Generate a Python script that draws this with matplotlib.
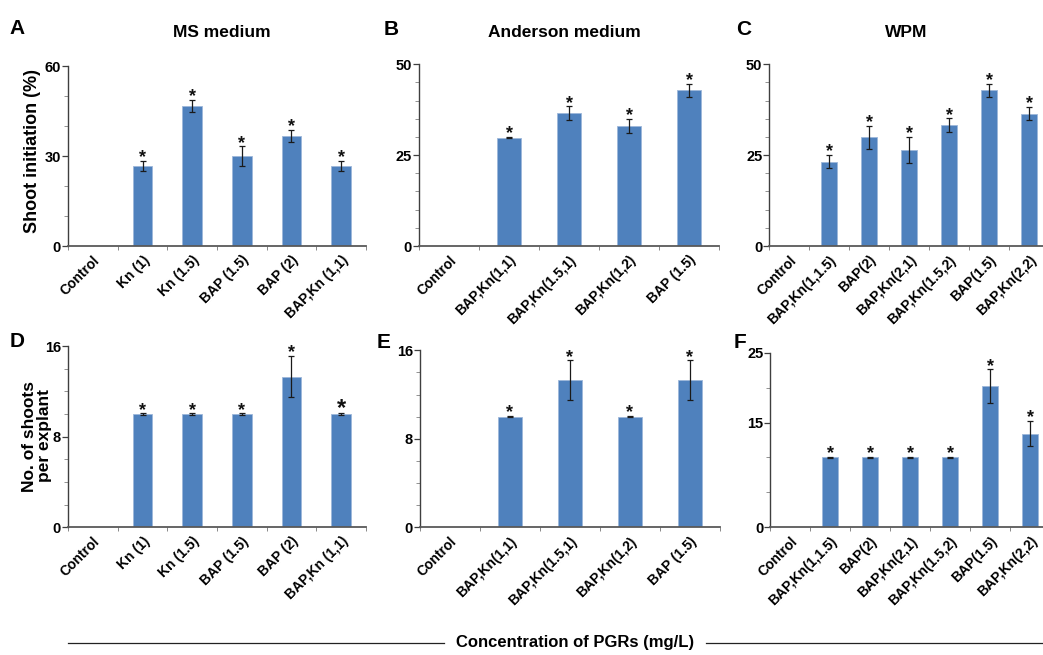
import matplotlib
matplotlib.use("Agg")
import matplotlib.pyplot as plt
from matplotlib.ticker import MultipleLocator, FixedLocator
import numpy as np

plt.rcParams['font.family'] = ['Liberation Sans', 'DejaVu Sans']
plt.rcParams['font.weight'] = 'bold'

# ---------------- data ----------------
ms_labels = ["Control", "Kn (1)", "Kn (1.5)", "BAP (1.5)", "BAP (2)", "BAP,Kn (1,1)"]
and_labels = ["Control", "BAP,Kn(1,1)", "BAP,Kn(1.5,1)", "BAP,Kn(1,2)", "BAP (1.5)"]
wpm_labels = ["Control", "BAP,Kn(1,1.5)", "BAP(2)", "BAP,Kn(2,1)", "BAP,Kn(1.5,2)", "BAP(1.5)", "BAP,Kn(2,2)"]

a_vals = [0, 26.7, 46.7, 30.0, 36.7, 26.7]
a_err = [0, 1.8, 2.0, 3.2, 1.9, 1.8]
b_vals = [0, 29.8, 36.6, 33.1, 42.9]
b_err = [0, 0.15, 1.8, 1.9, 1.8]
c_vals = [0, 23.2, 29.9, 26.5, 33.2, 42.9, 36.4]
c_err = [0, 1.8, 3.2, 3.6, 1.9, 1.8, 1.8]
d_vals = [0, 10.0, 10.0, 10.0, 13.3, 10.0]
d_err = [0, 0.05, 0.05, 0.05, 1.8, 0.05]
e_vals = [0, 10.0, 13.3, 10.0, 13.3]
e_err = [0, 0.05, 1.8, 0.05, 1.8]
f_vals = [0, 10.0, 10.0, 10.0, 10.0, 20.2, 13.4]
f_err = [0, 0.1, 0.1, 0.1, 0.1, 2.4, 1.8]

W, H = 1043, 655
fig = plt.figure(figsize=(W / 100, H / 100), dpi=100)

BAR = '#4F81BD'
AX = '#3f3f3f'

def px_axes(left, top, right, bottom):
    return fig.add_axes([left / W, 1 - bottom / H, (right - left) / W, (bottom - top) / H])

def panel(ax, labels, vals, errs, ymax, major, minor, big_star_idx=None, yticks=None):
    n = len(labels)
    x = np.arange(n)
    ax.bar(x, vals, width=0.4, color=BAR, edgecolor='#9DB7DA', linewidth=0.6, zorder=2)
    for i in range(1, n):
        ax.errorbar(x[i], vals[i], yerr=errs[i], fmt='none', ecolor='#1a1a1a',
                    elinewidth=0.9, capsize=2.5, capthick=0.9, zorder=3)
        fs = 17 if (big_star_idx is not None and i == big_star_idx) else 13
        ax.annotate('*', xy=(x[i], vals[i] + errs[i]), xytext=(0, -1),
                    textcoords='offset points', ha='center', va='baseline',
                    fontsize=fs, fontweight='bold', color='#111111')
    ax.set_xlim(-0.5, n - 0.5)
    ax.set_ylim(0, ymax)
    for s in ['top', 'right']:
        ax.spines[s].set_visible(False)
    ax.spines['left'].set_color(AX)
    ax.spines['left'].set_linewidth(1.0)
    ax.spines['bottom'].set_color('#595959')
    ax.spines['bottom'].set_linewidth(1.3)
    if yticks is not None:
        ax.yaxis.set_major_locator(FixedLocator(yticks))
    else:
        ax.yaxis.set_major_locator(MultipleLocator(major))
    ax.yaxis.set_minor_locator(MultipleLocator(minor))
    ax.tick_params(axis='y', which='major', length=4, width=0.9, color=AX, pad=1,
                   labelsize=10.5)
    ax.tick_params(axis='y', which='minor', length=3, width=0.6, color='#808080')
    for t in ax.get_yticklabels():
        t.set_fontweight('bold')
    ax.xaxis.set_major_locator(FixedLocator(x))
    ax.xaxis.set_minor_locator(FixedLocator(np.arange(n + 1) - 0.5))
    ax.tick_params(axis='x', which='major', length=0, pad=5)
    ax.tick_params(axis='x', which='minor', length=3, width=0.7, color='#888888')
    ax.set_xticklabels(labels, rotation=45, ha='right', rotation_mode='anchor',
                       fontsize=10, fontweight='bold')

# top row
axA = px_axes(68, 66, 366, 246)
panel(axA, ms_labels, a_vals, a_err, 60, 30, 10)
axB = px_axes(419, 64.3, 719, 246)
panel(axB, and_labels, b_vals, b_err, 50, 25, 5)
axC = px_axes(769.3, 64.3, 1049.3, 246)
panel(axC, wpm_labels, c_vals, c_err, 50, 25, 5)

# bottom row
axD = px_axes(68, 346, 366, 527.3)
panel(axD, ms_labels, d_vals, d_err, 16, 8, 2, big_star_idx=5)
axE = px_axes(419.7, 350.3, 719.7, 527.3)
panel(axE, and_labels, e_vals, e_err, 16, 8, 2)
axF = px_axes(770.3, 352.7, 1050.3, 527.3)
panel(axF, wpm_labels, f_vals, f_err, 25, 15, 5, yticks=[0, 15, 25])

# titles
def ftext(x, y, s, **kw):
    fig.text(x / W, 1 - y / H, s, **kw)

ftext(222, 36.7, "MS medium", ha='center', va='baseline', fontsize=12.5, fontweight='bold')
ftext(564, 36.7, "Anderson medium", ha='center', va='baseline', fontsize=12.5, fontweight='bold')
ftext(906, 36.7, "WPM", ha='center', va='baseline', fontsize=12.5, fontweight='bold')

# panel letters
for (x, y, s) in [(9, 34, 'A'), (384, 35, 'B'), (736, 35, 'C'),
                  (10, 347, 'D'), (377, 348, 'E'), (734, 348, 'F')]:
    ftext(x, y, s, ha='left', va='baseline', fontsize=15, fontweight='bold')

# y labels
ftext(33, 151, "Shoot initiation (%)", rotation=90, ha='center', va='center',
      fontsize=13, fontweight='bold')
ftext(37, 436, "No. of shoots\nper explant", rotation=90, ha='center', va='center',
      fontsize=12.5, fontweight='bold', linespacing=0.95, multialignment='center')

# common x label with lines
ftext(575, 643, "Concentration of PGRs (mg/L)", ha='center', va='center',
      fontsize=12, fontweight='bold')
fig.add_artist(plt.Line2D([68 / W, 444 / W], [1 - 643 / H, 1 - 643 / H],
                          color='#222222', lw=0.9))
fig.add_artist(plt.Line2D([706 / W, 1043 / W], [1 - 643 / H, 1 - 643 / H],
                          color='#222222', lw=0.9))

fig.savefig("out.png", dpi=100)
